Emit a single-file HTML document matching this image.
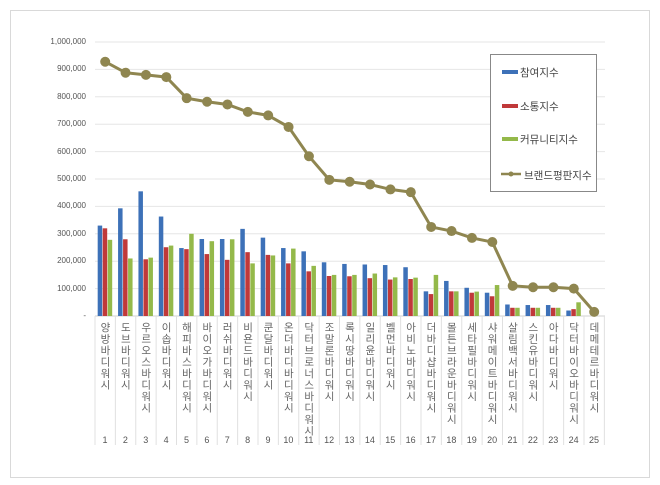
<!DOCTYPE html>
<html><head><meta charset="utf-8"><style>
html,body{margin:0;padding:0;background:#fff;}
#c{position:relative;width:660px;height:485px;overflow:hidden;font-family:"Liberation Sans","Noto Sans CJK KR",sans-serif;}
.lab{position:absolute;top:322px;width:20px;text-align:center;writing-mode:vertical-rl;text-orientation:upright;font-size:10.5px;letter-spacing:1px;color:#666;line-height:20px;}
.num{position:absolute;top:435px;width:20px;text-align:center;font-size:9px;color:#555;}
.yl{position:absolute;width:80px;text-align:right;font-size:8px;color:#555;}
.leg{position:absolute;font-size:10.5px;color:#444;}
</style></head><body><div id="c"><svg id="s" width="660" height="485" style="position:absolute;left:0;top:0"></svg></div>
<script>
var names=["양방바디워시","도브바디워시","우르오스바디워시","이솝바디워시","해피바스바디워시","바이오가바디워시","러쉬바디워시","비욘드바디워시","쿤달바디워시","온더바디바디워시","닥터브로너스바디워시","조말론바디워시","록시땅바디워시","일리윤바디워시","벨먼바디워시","아비노바디워시","더바디샵바디워시","몰튼브라운바디워시","세타필바디워시","샤워메이트바디워시","살림백서바디워시","스킨유바디워시","아다바디워시","닥터바이오바디워시","데메테르바디워시"];
var L=[928,888,880,872,795,782,772,745,732,690,583,497,490,480,462,452,325,310,285,270,110,105,105,100,15];
var B=[330,393,455,363,248,281,281,318,286,248,236,196,190,188,186,178,90,128,103,85,42,40,40,20,0];
var R=[320,280,207,251,244,226,205,233,223,192,163,146,145,138,133,135,80,90,85,72,30,30,30,25,0];
var G=[278,210,213,257,300,273,280,192,221,246,183,150,150,155,141,140,150,90,89,113,30,30,30,50,0];
var y0=316,k=0.274,x0=95,w=20.375;
var s='<rect x="10.5" y="10.5" width="639" height="467" fill="none" stroke="#d9d9d9"/>';
for(var i=0;i<=10;i++){var y=y0-i*100*k;s+='<line x1="95" x2="605" y1="'+y+'" y2="'+y+'" stroke="'+(i?'#e6e6e6':'#d0d0d0')+'"/>';}
for(var i=0;i<=25;i++){var x=x0+i*w;s+='<line x1="'+x+'" x2="'+x+'" y1="316" y2="445" stroke="#e0e0e0"/>';}
for(var i=0;i<25;i++){var c=x0+i*w+w/2;
[[B,'#3d71b8',-7.5],[R,'#c0393a',-2.5],[G,'#94b94a',2.5]].forEach(function(a){var v=a[0][i];if(v>0)s+='<rect x="'+(c+a[2])+'" y="'+(y0-v*k)+'" width="4.5" height="'+(v*k)+'" fill="'+a[1]+'"/>';});}
var p=L.map(function(v,i){return (x0+i*w+w/2)+','+(y0-v*k)}).join(' ');
s+='<polyline points="'+p+'" fill="none" stroke="#8f8650" stroke-width="3"/>';
L.forEach(function(v,i){s+='<circle cx="'+(x0+i*w+w/2)+'" cy="'+(y0-v*k)+'" r="5" fill="#8f8650"/>';});
s+='<rect x="490.5" y="54.5" width="106" height="137" fill="#fff" stroke="#888"/>';
s+='<rect x="502" y="70" width="16" height="4" fill="#3d71b8"/><rect x="502" y="104" width="16" height="4" fill="#c0393a"/><rect x="502" y="137" width="16" height="4" fill="#94b94a"/>';
s+='<line x1="501" x2="521" y1="174" y2="174" stroke="#8f8650" stroke-width="2.5"/><circle cx="511" cy="174" r="2.5" fill="#8f8650"/>';
document.getElementById('s').innerHTML=s;
var h='';
for(var i=0;i<=10;i++){var y=y0-i*100*k-5;var t=i?(i*100000).toLocaleString('en-US'):'-';h+='<div class="yl" style="left:6px;top:'+y+'px">'+t+'</div>';}
names.forEach(function(n,i){var x=x0+i*w;h+='<div class="lab" style="left:'+x+'px">'+n+'</div><div class="num" style="left:'+x+'px">'+(i+1)+'</div>';});
h+='<div class="leg" style="left:520px;top:65px">참여지수</div><div class="leg" style="left:520px;top:99px">소통지수</div><div class="leg" style="left:520px;top:132px">커뮤니티지수</div><div class="leg" style="left:524px;top:168px">브랜드평판지수</div>';
document.getElementById('c').insertAdjacentHTML('beforeend',h);
</script></body></html>
